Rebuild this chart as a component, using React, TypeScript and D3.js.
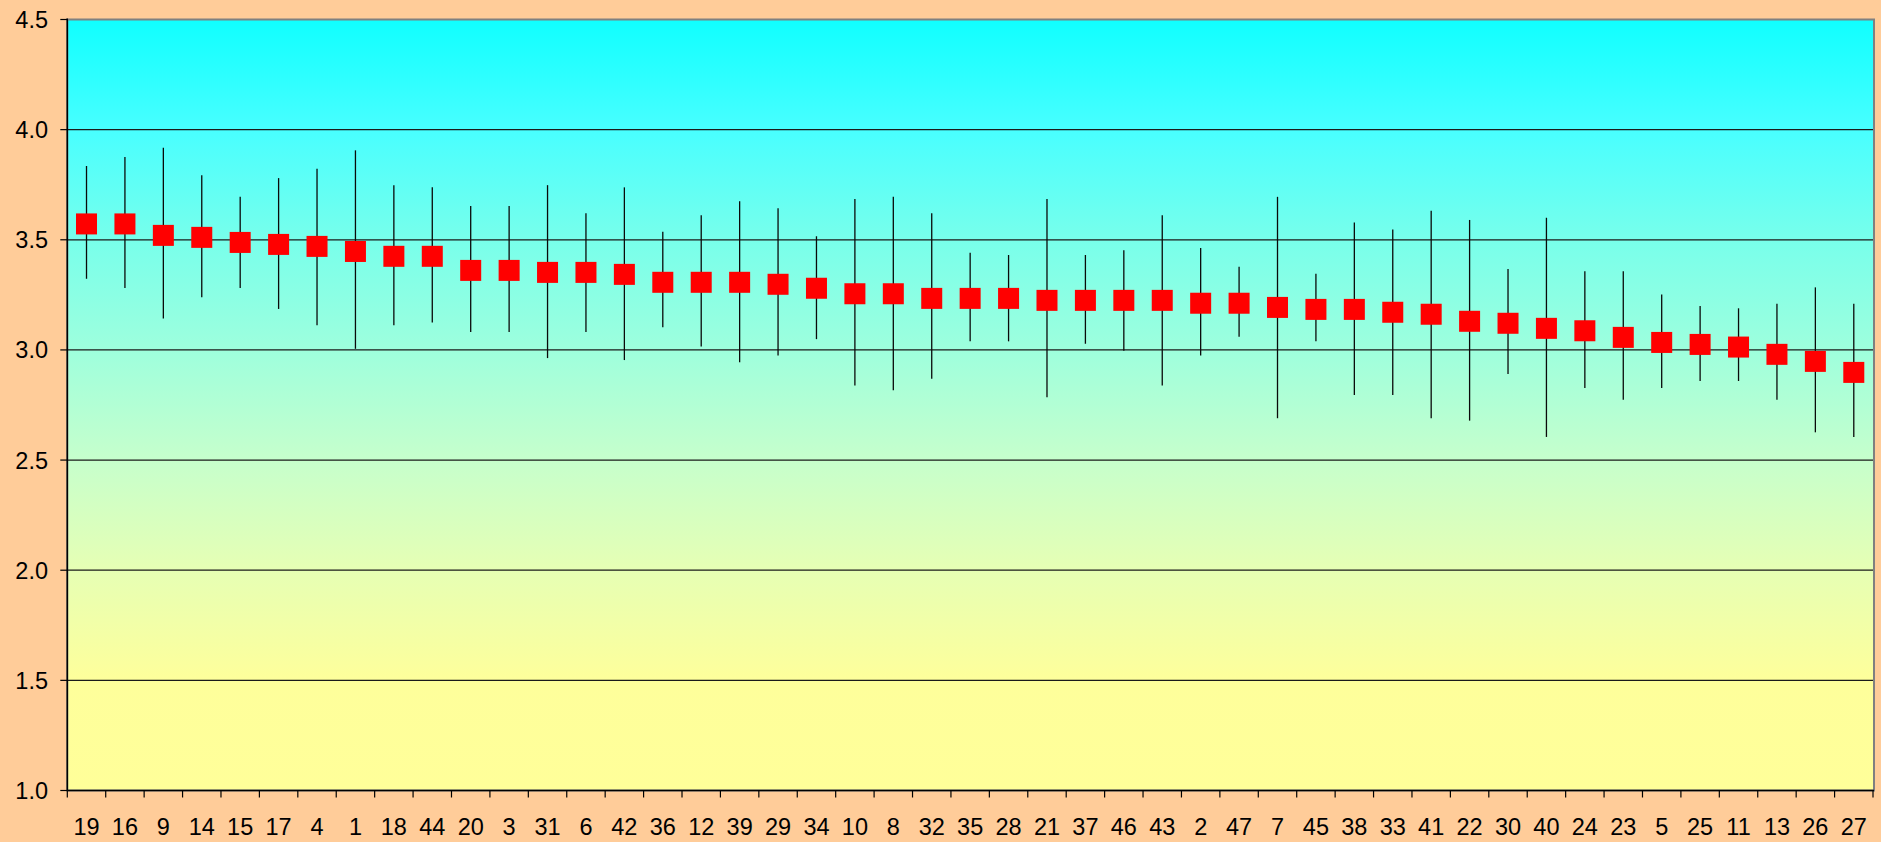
import React from 'react';
import * as d3 from 'd3';

const categories = ['19','16','9','14','15','17','4','1','18','44','20','3','31','6','42','36','12','39','29','34','10','8','32','35','28','21','37','46','43','2','47','7','45','38','33','41','22','30','40','24','23','5','25','11','13','26','27'];

const means = [3.572,3.572,3.520,3.511,3.488,3.479,3.470,3.447,3.425,3.425,3.361,3.361,3.352,3.352,3.343,3.307,3.307,3.307,3.298,3.280,3.255,3.255,3.234,3.234,3.234,3.225,3.225,3.225,3.225,3.212,3.212,3.193,3.184,3.184,3.171,3.162,3.130,3.121,3.098,3.087,3.057,3.034,3.025,3.013,2.980,2.948,2.898];

const highs = [3.835,3.876,3.918,3.793,3.695,3.780,3.823,3.906,3.748,3.738,3.653,3.653,3.748,3.621,3.738,3.537,3.611,3.675,3.643,3.516,3.685,3.695,3.621,3.441,3.431,3.685,3.431,3.452,3.611,3.463,3.378,3.695,3.346,3.579,3.547,3.632,3.590,3.367,3.600,3.357,3.357,3.252,3.199,3.189,3.210,3.284,3.210];

const lows = [3.323,3.281,3.143,3.239,3.281,3.186,3.112,3.005,3.112,3.124,3.081,3.081,2.963,3.081,2.954,3.103,3.016,2.944,2.975,3.049,2.838,2.817,2.869,3.039,3.039,2.785,3.028,2.996,2.838,2.975,3.060,2.690,3.039,2.795,2.795,2.690,2.679,2.891,2.605,2.827,2.774,2.827,2.859,2.859,2.774,2.626,2.605];

const yTicks = [1.0, 1.5, 2.0, 2.5, 3.0, 3.5, 4.0, 4.5];

const gradientStops = [
  { offset: 0, color: '#10FFFF' },
  { offset: 0.143, color: '#48FFFF' },
  { offset: 0.286, color: '#78FFEB' },
  { offset: 0.429, color: '#9EFFDD' },
  { offset: 0.571, color: '#C6FFCC' },
  { offset: 0.714, color: '#E6FFB4' },
  { offset: 0.857, color: '#FEFF9B' },
  { offset: 1, color: '#FFFF99' },
];

export default function App() {
  const W = 1881;
  const H = 842;
  const left = 67.3;
  const right = 1873;
  const top = 19.5;
  const bottom = 790.5;
  const font = '"Liberation Sans", Arial, sans-serif';
  const fontSize = 23.5;
  const marker = 21;

  const x = d3.scaleBand<string>().domain(categories).range([left, right]).padding(0);
  const y = d3.scaleLinear().domain([1, 4.5]).range([bottom, top]);
  const bw = x.bandwidth();

  return (
    <svg width={W} height={H} style={{ position: 'absolute', left: 0, top: 0, display: 'block' }}>
      <defs>
        <linearGradient id="plotBg" x1="0" y1="0" x2="0" y2="1">
          {gradientStops.map((s, i) => (
            <stop key={i} offset={s.offset} stopColor={s.color} />
          ))}
        </linearGradient>
      </defs>
      <rect x={0} y={0} width={W} height={H} fill="#FFCC99" />
      <rect x={left} y={top} width={right - left} height={bottom - top} fill="url(#plotBg)" />
      <rect x={left} y={top} width={right - left + 1} height={bottom - top} fill="none" stroke="#808080" strokeWidth={2} />
      {yTicks.filter(t => t > 1 && t < 4.5).map(t => (
        <line key={'g' + t} x1={left} x2={right} y1={y(t)} y2={y(t)} stroke="#1a1a1a" strokeWidth={1.2} />
      ))}
      {categories.map((c, i) => {
        const cx = (x(c) as number) + bw / 2;
        return (
          <line key={'e' + c} x1={cx} x2={cx} y1={y(highs[i])} y2={y(lows[i])} stroke="#0a0a0a" strokeWidth={1.3} />
        );
      })}
      {categories.map((c, i) => {
        const cx = (x(c) as number) + bw / 2;
        return (
          <rect key={'m' + c} x={cx - marker / 2} y={y(means[i]) - marker / 2} width={marker} height={marker} fill="#FF0000" />
        );
      })}
      <line x1={left} x2={left} y1={top - 1} y2={bottom} stroke="#000" strokeWidth={1.5} />
      <line x1={left} x2={right + 1} y1={bottom} y2={bottom} stroke="#000" strokeWidth={1.5} />
      {yTicks.map(t => (
        <g key={'yt' + t}>
          <line x1={left - 7} x2={left} y1={y(t)} y2={y(t)} stroke="#000" strokeWidth={1.2} />
          <text x={48} y={y(t)} dy="0.36em" textAnchor="end" fontFamily={font} fontSize={fontSize} fill="#000">
            {t.toFixed(1)}
          </text>
        </g>
      ))}
      {d3.range(categories.length + 1).map(i => {
        const tx = left + i * bw;
        return <line key={'xt' + i} x1={tx} x2={tx} y1={bottom} y2={bottom + 7} stroke="#000" strokeWidth={1.2} />;
      })}
      {categories.map(c => (
        <text key={'xl' + c} x={(x(c) as number) + bw / 2} y={835} textAnchor="middle" fontFamily={font} fontSize={fontSize} fill="#000">
          {c}
        </text>
      ))}
    </svg>
  );
}
